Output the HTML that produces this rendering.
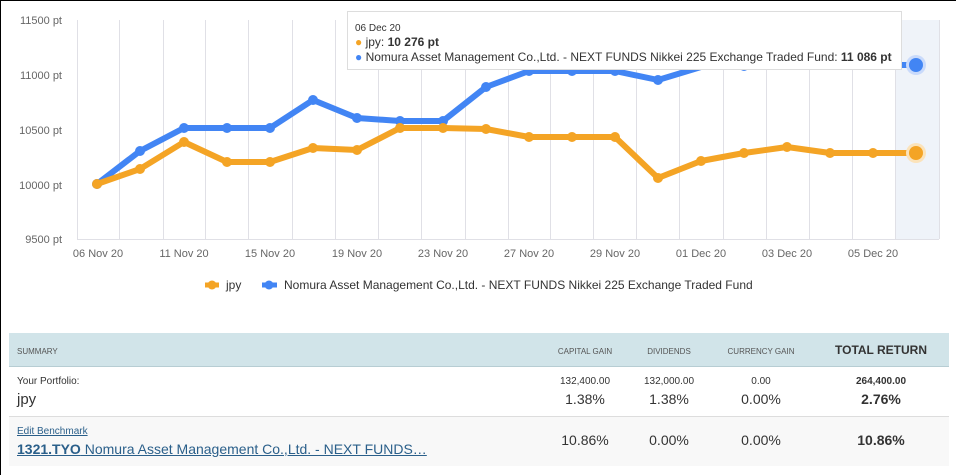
<!DOCTYPE html>
<html><head><meta charset="utf-8"><style>
body{margin:0;width:956px;height:475px;overflow:hidden;background:#fff;font-family:"Liberation Sans",sans-serif;position:relative;border-top:1px solid #000;border-left:1px solid #000;box-sizing:border-box}
.t{position:absolute;left:8px;top:332px;width:940px}
.h{height:33px;background:#d1e4e9;border-bottom:1px solid #b7cdd3;position:relative;font-size:8px;color:#555}
.r1{height:49px;border-bottom:1px solid #ddd;position:relative;color:#333}
.r2{height:49px;background:#f8f8f8;position:relative;color:#333}
.a{position:absolute;transform:translateX(-50%);white-space:nowrap}
</style></head><body>
<svg width="956" height="310" style="position:absolute;left:-1px;top:-1px" font-family="Liberation Sans" font-size="11" fill="#666">
<rect x="895" y="20" width="44" height="219" fill="#eff3f9"/>
<g stroke="#e0e0e6" stroke-width="1">
<path d="M119.5 20V239M163.5 20V239M205.5 20V239M248.5 20V239M292.5 20V239M335.5 20V239M378.5 20V239M421.5 20V239M465.5 20V239M508.5 20V239M550.5 20V239M593.5 20V239M636.5 20V239M679.5 20V239M723.5 20V239M766.5 20V239M809.5 20V239M852.5 20V239M895.5 20V239M939.5 20V239M77.5 20V239"/>
<path d="M77 239.5H939"/>
</g>
<g text-anchor="end"><text x="62" y="24">11500 pt</text><text x="62" y="79">11000 pt</text><text x="62" y="134">10500 pt</text><text x="62" y="189">10000 pt</text><text x="62" y="243">9500 pt</text></g>
<g text-anchor="middle"><text x="98" y="257">06 Nov 20</text><text x="184" y="257">11 Nov 20</text><text x="270" y="257">15 Nov 20</text><text x="357" y="257">19 Nov 20</text><text x="443" y="257">23 Nov 20</text><text x="529" y="257">27 Nov 20</text><text x="615" y="257">29 Nov 20</text><text x="701" y="257">01 Dec 20</text><text x="787" y="257">03 Dec 20</text><text x="873" y="257">05 Dec 20</text></g>
<polyline fill="none" stroke="#4285f4" stroke-width="6" stroke-linejoin="round" points="97,184 140,151 184,128 227,128 270,128 313,100 357,118 400,121 443,121 486,87 529,71 572,71 615,71 658,80 701,67 744,65 787,65 830,65 873,65 916,65"/>
<g fill="#4285f4"><circle cx="97" cy="184" r="5"/><circle cx="140" cy="151" r="5"/><circle cx="184" cy="128" r="5"/><circle cx="227" cy="128" r="5"/><circle cx="270" cy="128" r="5"/><circle cx="313" cy="100" r="5"/><circle cx="357" cy="118" r="5"/><circle cx="400" cy="121" r="5"/><circle cx="443" cy="121" r="5"/><circle cx="486" cy="87" r="5"/><circle cx="529" cy="71" r="5"/><circle cx="572" cy="71" r="5"/><circle cx="615" cy="71" r="5"/><circle cx="658" cy="80" r="5"/><circle cx="744" cy="66" r="5"/><circle cx="916" cy="65" r="10" fill="#c9dafb"/><circle cx="916" cy="65" r="7"/></g>
<polyline fill="none" stroke="#f4a425" stroke-width="6" stroke-linejoin="round" points="97,184 140,169 184,142 227,162 270,162 313,148 357,150 400,128 443,128 486,129 529,137 572,137 615,137 658,178 701,161 744,153 787,147 830,153 873,153 916,153"/>
<g fill="#f4a425"><circle cx="97" cy="184" r="5"/><circle cx="140" cy="169" r="5"/><circle cx="184" cy="142" r="5"/><circle cx="227" cy="162" r="5"/><circle cx="270" cy="162" r="5"/><circle cx="313" cy="148" r="5"/><circle cx="357" cy="150" r="5"/><circle cx="400" cy="128" r="5"/><circle cx="443" cy="128" r="5"/><circle cx="486" cy="129" r="5"/><circle cx="529" cy="137" r="5"/><circle cx="572" cy="137" r="5"/><circle cx="615" cy="137" r="5"/><circle cx="658" cy="178" r="5"/><circle cx="701" cy="161" r="5"/><circle cx="744" cy="153" r="5"/><circle cx="787" cy="147" r="5"/><circle cx="830" cy="153" r="5"/><circle cx="873" cy="153" r="5"/><circle cx="916" cy="153" r="10" fill="#fbe3bb"/><circle cx="916" cy="153" r="7"/></g>
<rect x="347.5" y="11.5" width="554" height="58" fill="#fff" stroke="#ddd"/>
<text x="355" y="31" font-size="10" fill="#333">06 Dec 20</text>
<text x="355" y="46" font-size="12" fill="#333"><tspan fill="#f4a425">●</tspan> jpy: <tspan font-weight="bold">10 276 pt</tspan></text>
<text x="355" y="61" font-size="12" fill="#333"><tspan fill="#4285f4">●</tspan> Nomura Asset Management Co.,Ltd. - NEXT FUNDS Nikkei 225 Exchange Traded Fund: <tspan font-weight="bold">11 086 pt</tspan></text>
<path d="M205 285H219" stroke="#f4a425" stroke-width="5"/><circle cx="212" cy="285" r="4.5" fill="#f4a425"/>
<text x="226" y="289" font-size="12" fill="#333">jpy</text>
<path d="M262 285H277" stroke="#4285f4" stroke-width="5"/><circle cx="269" cy="285" r="4.5" fill="#4285f4"/>
<text x="284" y="289" font-size="12" fill="#333">Nomura Asset Management Co.,Ltd. - NEXT FUNDS Nikkei 225 Exchange Traded Fund</text>
</svg>
<div class="t">
<div class="h"><span style="position:absolute;left:8px;top:14px">SUMMARY</span><span class="a" style="left:576px;top:14px">CAPITAL GAIN</span><span class="a" style="left:660px;top:14px">DIVIDENDS</span><span class="a" style="left:752px;top:14px">CURRENCY GAIN</span><span class="a" style="left:872px;top:10px;font-size:12px;font-weight:bold;color:#333">TOTAL RETURN</span></div>
<div class="r1"><span style="position:absolute;left:8px;top:9px;font-size:10px">Your Portfolio:</span><span style="position:absolute;left:8px;top:24px;font-size:15px">jpy</span>
<span class="a" style="left:576px;top:9px;font-size:10px">132,400.00</span><span class="a" style="left:660px;top:9px;font-size:10px">132,000.00</span><span class="a" style="left:752px;top:9px;font-size:10px">0.00</span><span class="a" style="left:872px;top:9px;font-size:10px;font-weight:bold">264,400.00</span>
<span class="a" style="left:576px;top:24px;font-size:14px">1.38%</span><span class="a" style="left:660px;top:24px;font-size:14px">1.38%</span><span class="a" style="left:752px;top:24px;font-size:14px">0.00%</span><span class="a" style="left:872px;top:24px;font-size:14px;font-weight:bold">2.76%</span></div>
<div class="r2"><span style="position:absolute;left:8px;top:9px;font-size:10px;color:#2a5f8a;text-decoration:underline">Edit Benchmark</span><span style="position:absolute;left:8px;top:24px;font-size:14px;color:#2a5f8a;text-decoration:underline;white-space:nowrap"><b>1321.TYO</b> Nomura Asset Management Co.,Ltd. - NEXT FUNDS…</span>
<span class="a" style="left:576px;top:15px;font-size:14px">10.86%</span><span class="a" style="left:660px;top:15px;font-size:14px">0.00%</span><span class="a" style="left:752px;top:15px;font-size:14px">0.00%</span><span class="a" style="left:872px;top:15px;font-size:14px;font-weight:bold">10.86%</span></div>
</div>
</body></html>
